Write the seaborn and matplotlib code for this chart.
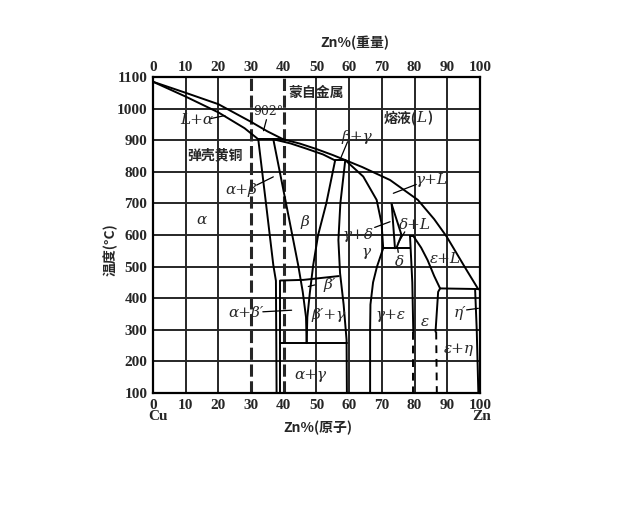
import matplotlib
matplotlib.use('Agg')
import matplotlib.pyplot as plt
import seaborn as sns

# Cu-Zn phase diagram (Zn %, temperature in C)
grid_x = [10, 20, 50, 60, 70, 80, 90]
alloy_x = [30, 40]               # 弹壳黄铜 (70/30) and 蒙自金属 (60/40)
x_ticks = [0, 10, 20, 30, 40, 50, 60, 70, 80, 90, 100]
t_ticks = [100, 200, 300, 400, 500, 600, 700, 800, 900, 1000, 1100]

liquidus_x = [0, 10, 20, 30, 35, 39.8, 45, 50, 55, 58.8, 64, 72.5, 81, 86, 89.8, 95.9, 99.5]
liquidus_t = [1085, 1050, 1014, 958, 928, 903, 889, 872, 853, 837, 815, 774, 711, 650, 595, 489, 428]
a_solidus_x = [0, 10, 20, 28, 32.2]
a_solidus_t = [1085, 1038, 988, 938, 903]
peri902_x = [32.2, 39.8]
peri902_t = [903, 903]
b_solidus_x = [36.8, 42, 47, 52, 55.7]
b_solidus_t = [903, 890, 873, 855, 836]
peri835_x = [55.7, 58.8]
peri835_t = [836, 836]
a_solvus_x = [32.2, 34.5, 36.8, 37.6, 37.8]
a_solvus_t = [903, 705, 505, 455, 100]
b_left_x = [36.8, 40.6, 44.4, 45.8, 46.8, 47]
b_left_t = [903, 705, 505, 420, 340, 258]
b_right_x = [55.7, 53, 50.5, 49, 48, 47.2, 47]
b_right_t = [836, 700, 600, 505, 420, 340, 258]
order_x = [38.9, 46, 56.8]
order_t = [456, 458, 470]
ag_left_x = [38.9, 38.9]
ag_left_t = [456, 100]
eutectoid_x = [38.9, 59.2]
eutectoid_t = [258, 258]
g_left_x = [58.8, 57.3, 56.7, 57.2, 58.3, 59.2, 59.3]
g_left_t = [837, 700, 584, 480, 380, 268, 100]
g_right_hi_x = [58.8, 64.3, 68.4, 69.9, 70.4]
g_right_hi_t = [837, 785, 711, 637, 558]
g_right_lo_x = [70.4, 68.5, 67.3, 66.5, 66.4, 66.4]
g_right_lo_t = [558, 500, 450, 380, 300, 100]
gd_x = [70.4, 78.6]
gd_t = [558, 558]
d_left_x = [73, 74]
d_left_t = [697, 558]
d_right_x = [73, 76, 74.5]
d_right_t = [697, 600, 560]
e_left_x = [78.6, 79.3, 79.6]
e_left_t = [597, 450, 294]
e_left_dash_x = [79.6, 79.6]
e_left_dash_t = [294, 100]
e_top_x = [78.6, 79.6]
e_top_t = [597, 597]
e_right_x = [79.6, 82, 84, 86, 87.8, 87.2, 86.4]
e_right_t = [597, 560, 520, 470, 431, 420, 294]
e_right_dash_x = [86.6, 86.8]
e_right_dash_t = [294, 100]
eh_x = [87.8, 99.5]
eh_t = [431, 429]
eta_x = [98.5, 99, 99.5]
eta_t = [429, 300, 100]

# region labels: text, x, T
phase_names = ['L+α', 'α', 'α+β', 'β', 'β′', 'α+β′', 'β′+γ', 'α+γ', 'β+γ', 'γ+L', 'γ+δ',
               'γ', 'δ+L', 'δ', 'ε+L', 'γ+ε', 'ε', 'η′', 'ε+η']
phase_x = [13.4, 14.9, 27.1, 46.5, 54.1, 28.6, 53.6, 48, 62.3, 85.2, 62.8,
           65.3, 80.1, 75.5, 89.5, 72.5, 83.2, 93.9, 93.4]
phase_t = [964, 647, 742, 642, 442, 352, 347, 157, 911, 774, 600,
           547, 632, 515, 525, 347, 326, 354, 240]
# leader lines: start (x, T) -> end (x, T)
lead_x0 = [17.5, 31.7, 49.5, 33.6, 59.5, 80.5, 67.8, 77.0, 75.0, 95.9, 34.7]
lead_t0 = [968, 758, 442, 357, 895, 760, 624, 610, 545, 363, 965]
lead_x1 = [22.0, 36.8, 47.5, 42.4, 57.2, 73.5, 72.5, 75.0, 74.8, 99.5, 33.8]
lead_t1 = [978, 784, 437, 362, 838, 732, 642, 575, 560, 368, 930]

sns.set_theme(style='white')
plt.rcParams['font.family'] = ['Liberation Serif', 'Noto Sans CJK SC']
cjk = ['Noto Sans CJK SC', 'DejaVu Sans']

fig = plt.figure(figsize=(6.4, 5.12), dpi=100)
ax = fig.add_axes([0.239, 0.2324, 0.511, 0.6172])
ax.set_xlim(0, 100)
ax.set_ylim(100, 1100)

for gx in grid_x:
    ax.axvline(gx, color='#262626', lw=1.4, zorder=1)
for gt in t_ticks[1:-1]:
    ax.axhline(gt, color='#262626', lw=1.4, zorder=1)
for ax_x in alloy_x:
    ax.axvline(ax_x, color='#262626', lw=2.2, ls=(0, (4, 1.5)), zorder=1)


def boundary(x, t, ls='-'):
    sns.lineplot(x=x, y=t, sort=False, estimator=None, color='black',
                 lw=1.4, linestyle=ls, ax=ax, zorder=3)


for bx, bt in [(liquidus_x, liquidus_t), (a_solidus_x, a_solidus_t), (peri902_x, peri902_t),
               (b_solidus_x, b_solidus_t), (peri835_x, peri835_t), (a_solvus_x, a_solvus_t),
               (b_left_x, b_left_t), (b_right_x, b_right_t), (order_x, order_t),
               (ag_left_x, ag_left_t), (eutectoid_x, eutectoid_t), (g_left_x, g_left_t),
               (g_right_hi_x, g_right_hi_t), (g_right_lo_x, g_right_lo_t), (gd_x, gd_t),
               (d_left_x, d_left_t), (d_right_x, d_right_t), (e_left_x, e_left_t),
               (e_top_x, e_top_t), (e_right_x, e_right_t), (eh_x, eh_t), (eta_x, eta_t)]:
    boundary(bx, bt)
boundary(e_left_dash_x, e_left_dash_t, ls=(0, (4, 3)))
boundary(e_right_dash_x, e_right_dash_t, ls=(0, (4, 3)))

for x0, t0, x1, t1 in zip(lead_x0, lead_t0, lead_x1, lead_t1):
    ax.plot([x0, x1], [t0, t1], color='black', lw=0.9, zorder=3)

for name, px, pt in zip(phase_names, phase_x, phase_t):
    ax.text(px, pt, name, ha='center', va='center', fontsize=11, style='italic',
            family='DejaVu Serif', zorder=4)

ax.text(35.2, 990, '902°', ha='center', va='center', fontsize=9, family='DejaVu Serif')
ax.text(49.8, 1049, '蒙自金属', ha='center', va='center', fontsize=10, weight='bold', family=cjk)
ax.text(19, 853, '弹壳黄铜', ha='center', va='center', fontsize=10, weight='bold', family=cjk)
ax.text(80.6, 969, '熔液(', ha='right', va='center', fontsize=10, weight='bold', family=cjk)
ax.text(80.6, 969, 'L', ha='left', va='center', fontsize=11, style='italic', family='DejaVu Serif')
ax.text(83.8, 969, ')', ha='left', va='center', fontsize=10, weight='bold', family=cjk)

ax.set_xticks(x_ticks)
ax.set_yticks(t_ticks)
ax.tick_params(length=0, labelsize=11, pad=4)
for lab in ax.get_xticklabels() + ax.get_yticklabels():
    lab.set_fontweight('bold')
ax.set_xlabel('')
ax.set_ylabel('')
for sp in ax.spines.values():
    sp.set_color('black')
    sp.set_linewidth(1.6)

top = ax.twiny()
top.set_xlim(0, 100)
top.set_xticks(x_ticks)
top.tick_params(length=0, labelsize=11, pad=2)
for lab in top.get_xticklabels():
    lab.set_fontweight('bold')
top.grid(False)
for sp in top.spines.values():
    sp.set_visible(False)

fig.text(0.555, 0.916, 'Zn%(重量)', ha='center', va='center', fontsize=10, weight='bold', family=cjk)
fig.text(0.497, 0.164, 'Zn%(原子)', ha='center', va='center', fontsize=10, weight='bold', family=cjk)
fig.text(0.247, 0.186, 'Cu', ha='center', va='center', fontsize=11, weight='bold')
fig.text(0.753, 0.186, 'Zn', ha='center', va='center', fontsize=11, weight='bold')
fig.text(0.172, 0.512, '温度(°C)', ha='center', va='center', fontsize=10, weight='bold',
         rotation=90, family=cjk)

fig.savefig('out.png', dpi=100, facecolor='white')
